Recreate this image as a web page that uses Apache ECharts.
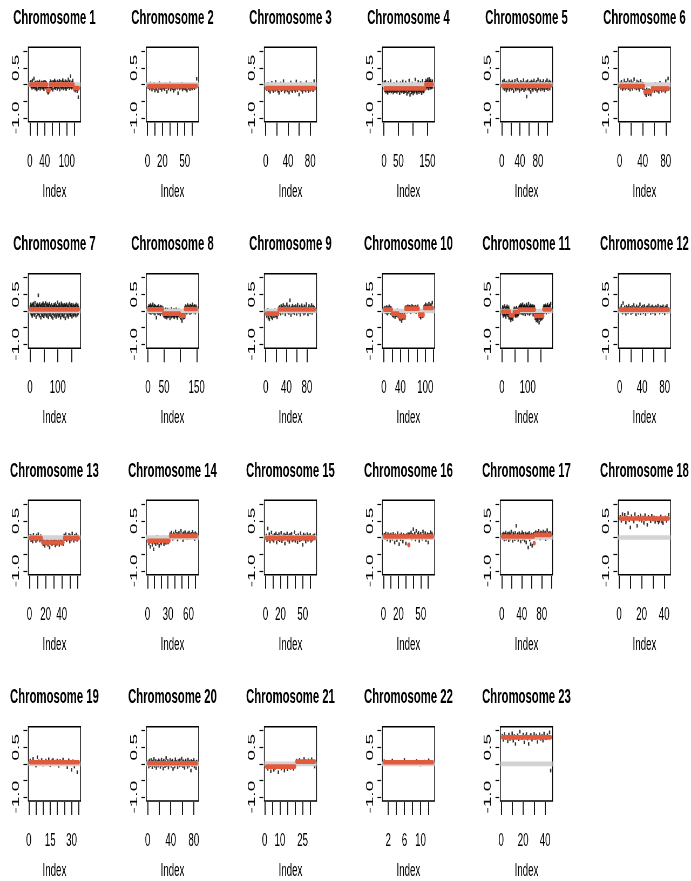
<!DOCTYPE html>
<html><head><meta charset="utf-8">
<script src="https://cdn.jsdelivr.net/npm/echarts@6/dist/echarts.min.js"></script>
<style>html,body{margin:0;padding:0;overflow:hidden;background:#fff}
#c{width:1280px;height:881px;transform:scaleX(0.539844);transform-origin:0 0}</style>
</head><body><div id="c"></div><script>
const titles = ['Chromosome 1','Chromosome 2','Chromosome 3','Chromosome 4','Chromosome 5','Chromosome 6','Chromosome 7','Chromosome 8','Chromosome 9','Chromosome 10','Chromosome 11','Chromosome 12','Chromosome 13','Chromosome 14','Chromosome 15','Chromosome 16','Chromosome 17','Chromosome 18','Chromosome 19','Chromosome 20','Chromosome 21','Chromosome 22','Chromosome 23'];

const chr1 = [.05,-.03,.08,-.06,.02,-.1,.12,-.04,.01,-.08,.18,-.05,.03,-.12,.06,-.02,-.09,.04,-.15,.07,-.03,.02,-.11,.05,-.06,.09,-.04,-.13,.03,-.07,.01,.06,-.1,-.02,.04,-.08,.07,-.14,.02,-.05,.08,-.03,-.09,.05,-.01,-.06,
-.2,-.12,-.25,-.15,-.22,-.1,-.18,
.04,-.07,.1,-.03,-.12,.06,-.05,.02,-.16,.08,-.02,.05,-.09,.12,-.04,-.11,.07,.01,-.06,.03,-.13,.09,-.02,-.08,.05,-.04,.11,-.15,.02,-.06,.08,-.01,-.1,.04,-.07,.13,-.03,-.12,.06,-.02,.03,-.09,.1,-.05,-.14,.07,.02,-.08,.05,-.03,.15,-.06,.04,-.11,.09,-.02,.25,-.07,.03,-.1,.06,-.04,.12,-.08,.02,
-.08,-.15,-.05,-.12,-.18,-.09,-.02,-.14,-.1,-.2,-.06,-.13,-.38,-.1];
const chr2 = [-.08,-.02,-.12,.03,-.06,-.15,-.04,-.1,.02,-.18,-.07,-.13,-.03,-.2,-.09,.04,-.11,-.05,-.16,-.02,-.1,-.07,-.14,.01,-.08,-.22,-.04,-.12,-.06,.03,-.15,-.09,-.03,-.11,-.19,-.05,-.13,-.07,-.02,-.1,-.26,-.06,-.12,-.04,-.09,.02,-.15,-.08,-.11,-.03,-.13,-.07,-.18,-.05,-.1,-.02,-.14,-.06,-.09,-.12,-.04,-.08,-.11,-.03,-.06,.17];
const chr3 = [-.05,-.14,-.08,.02,-.18,-.1,-.03,-.22,-.12,-.06,.05,-.15,-.09,-.2,-.04,-.11,-.16,.08,-.07,-.13,-.02,-.19,-.1,-.25,-.06,-.12,.03,-.17,-.08,-.14,-.11,.1,-.05,-.21,-.09,-.15,-.03,-.12,-.18,-.07,-.1,-.24,-.04,-.13,.06,-.16,-.09,-.2,-.06,-.11,-.14,-.02,-.19,-.08,.09,-.12,-.17,-.05,-.1,-.3,-.07,-.13,.04,-.16,-.09,-.22,-.11,-.04,-.15,-.08,-.12,-.18,.07,-.1,-.06,-.14,-.2,-.03,-.11,-.16,-.08,.02,-.13,-.09,-.17,-.05,.1,-.12];
const chr4 = [.06,
-.05,-.18,-.1,.08,-.15,-.22,-.07,-.13,-.02,-.19,-.11,-.25,-.08,.05,-.16,-.12,-.2,-.04,-.14,-.09,-.17,.1,-.06,-.21,-.13,-.1,-.03,-.18,-.15,-.08,-.24,-.11,.02,-.16,-.07,-.2,-.12,-.05,-.14,-.19,-.09,-.13,.07,-.22,-.1,-.16,-.04,-.12,-.18,-.08,-.15,-.11,-.26,-.06,-.13,.04,-.17,-.09,-.21,-.12,-.07,-.14,-.19,.09,-.1,-.16,-.05,-.23,-.12,-.08,-.15,-.2,-.1,.06,-.13,-.18,-.07,-.28,-.11,-.14,-.09,-.22,-.04,-.16,-.12,.12,-.19,-.1,-.31,-.13,-.06,-.17,-.11,-.24,-.08,-.15,.03,-.2,-.12,-.27,-.09,-.14,-.18,-.05,-.22,-.11,.15,-.16,-.08,-.13,-.2,-.1,-.25,-.07,-.15,-.12,.08,-.18,-.09,-.23,-.14,-.06,-.17,-.11,.05,-.2,-.13,-.08,-.26,-.1,-.16,.11,-.12,-.21,-.07,-.15,-.19,-.09,-.13,.04,-.11,
.05,-.08,.12,-.03,.02,-.1,.08,-.05,.15,-.02,.04,-.12,.06,
.17,
-.04,.08,-.1,.03,.12,-.06,.01,-.09,.05,-.02,.1,-.07];
const chr5 = [-.02,.08,-.1,-.05,.12,-.14,-.03,.04,-.09,-.18,.06,-.07,-.12,.02,-.05,.1,-.16,-.01,-.08,.05,-.13,-.04,.09,-.11,-.02,-.2,.03,-.06,.11,-.09,-.15,.01,-.07,.14,-.12,-.03,.06,-.1,-.19,.02,-.05,.08,-.14,-.08,.04,-.11,-.02,.13,-.17,-.06,.03,-.09,-.13,.07,-.36,-.04,.1,-.12,-.07,.02,-.15,.05,-.08,-.22,.09,-.03,-.11,.06,-.16,-.05,.12,-.1,-.02,.04,-.14,-.07,.08,-.19,-.04,.15,-.09,-.12,.03,-.06,.1,-.15,-.01,-.08,.05,-.13,-.04,.11,-.1,-.17,.02,-.06,.07,-.11,-.03,.13,-.08,-.14,.04,-.05,.09,-.12,-.02,.06];
const chr6 = [.03,-.1,.08,-.06,-.14,.02,-.09,.12,-.04,-.12,.05,-.08,-.02,.14,-.11,-.05,.07,-.15,-.01,.1,-.07,-.13,.04,-.03,.16,-.09,-.06,.01,-.12,.09,-.04,-.1,.06,-.16,-.02,.11,-.08,-.05,.03,-.11,.02,-.07,
-.18,-.27,-.2,-.32,-.15,-.24,-.21,-.29,-.17,-.25,-.2,-.3,-.19,
-.08,-.16,-.1,-.04,-.2,-.13,.02,-.15,-.09,-.18,-.11,-.06,-.22,-.12,.05,-.14,-.08,-.19,-.1,-.03,-.16,-.12,-.07,-.21,.1,-.11,-.15,-.05,.18,-.13];
const chr7 = [.12,-.05,.2,.08,-.1,.15,.02,-.15,.18,.05,-.08,.22,.1,-.02,.14,-.12,.06,.25,-.06,.11,.03,-.18,.16,.07,-.04,.2,.09,-.1,.13,.47,-.07,.17,.04,-.14,.21,.08,-.03,.12,-.2,.15,.06,-.09,.19,.01,-.13,.1,.23,-.05,.14,-.16,.07,.18,-.08,.11,-.02,.24,.05,-.11,.16,.03,-.15,.2,.09,-.06,.13,-.19,.17,.04,-.1,.22,.08,-.04,.15,-.12,.1,.02,-.17,.19,.06,-.07,.13,-.21,.11,.05,-.09,.18,-.01,.14,-.14,.07,.21,-.06,.1,-.18,.16,.03,-.11,.12,.26,-.03,.09,-.15,.17,.04,-.08,.2,-.12,.11,.06,-.2,.14,-.05,.23,.02,-.13,.18,.08,-.1,.15,-.02,.1,-.16,.19,.05,-.07,.13,-.22,.16,.07,-.04,.2,.01,-.14,.12,.09,-.09,.17,-.18,.11,.03,-.06,.22,.08,-.12,.15,.04,-.1,.19,-.03,.13,-.17,.09,.06,-.08,.18,.02,-.13,.14,.07,-.05,.11,-.09,.16,.03,-.14,.2,.07,-.02,.12,.05,-.11,.17,.08,-.06,.1];
const chr8 = [.1,-.02,.15,.06,-.04,.12,.01,.18,-.06,.09,.03,.14,-.03,.08,.2,0,.11,-.05,.07,.16,.02,-.08,.13,.05,.1,
-.2,
.08,-.03,.12,.04,-.07,.1,.15,.01,-.05,.09,.06,-.1,.13,.02,.07,-.04,.11,.03,-.06,.08,
-.05,-.12,.02,-.15,-.08,-.03,-.18,-.1,.05,-.13,-.07,-.2,-.02,-.11,.04,-.16,-.09,-.06,-.14,.01,-.1,-.22,-.04,-.12,-.08,.06,-.17,-.05,-.13,-.09,-.02,-.15,-.11,.03,-.19,-.07,-.1,-.14,-.04,-.08,.05,-.16,-.12,-.06,-.21,-.03,-.1,-.13,.02,-.09,-.15,-.07,
-.1,-.18,-.12,-.22,-.08,-.15,-.3,-.11,-.17,-.05,-.2,-.13,-.16,-.09,-.19,
.1,.02,.15,-.03,.08,.12,-.05,.06,.18,.01,.09,-.02,.14,.05,.11,-.06,.07,.16,.03,.1,-.04,.13,.08,.2,0,.06,.12,-.02,.09,.15,.04,.11,-.05,.07,.14,.02,.09];
const chr9 = [-.02,-.15,-.08,.03,-.2,-.1,-.25,-.05,-.13,.01,-.18,-.07,-.22,-.11,-.03,-.16,-.09,.02,-.14,-.06,-.12,-.19,-.04,-.1,
.08,-.03,.12,.05,-.08,.15,.02,.1,-.05,.18,.06,0,.13,-.1,.09,.04,.2,-.02,.11,.07,-.06,.14,.32,.03,-.12,.1,.05,.16,-.04,.08,.12,-.07,.02,.15,.06,-.09,.11,.19,.01,-.03,.09,.13,-.11,.05,.08,.17,-.02,.1,.04,-.08,.14,.06,-.05,.12,.21,0,.07,-.1,.09,.15,.03,-.04,.11,.06,.18,-.06,.08,.13,.02,.1,.05];
const chr10 = [.08,-.02,.1,0,.06,-.05,.12,.03,-.08,.09,.05,-.03,.14,.01,.07,-.06,.1,.04,.02,
-.05,-.12,-.02,-.15,-.08,-.1,0,-.18,-.06,-.11,-.04,-.13,-.09,.02,-.14,-.07,
-.12,-.2,-.1,-.25,-.14,-.08,-.18,-.3,-.16,-.11,-.22,-.13,-.19,-.15,-.09,-.21,
.1,.03,.12,.06,-.02,.09,.14,.04,.11,0,.08,.13,.05,-.04,.1,.07,.15,.02,.09,.12,.06,-.01,.11,.08,.04,.13,-.03,.1,.05,.09,.14,.07,.03,
-.08,-.15,-.06,-.12,-.2,-.09,-.13,-.05,-.16,-.1,-.07,-.14,
.12,.06,.15,.08,.2,.03,.11,.09,.17,.05,.13,.07,.22,.1,.04,.14,.08,.18,.06,.11,.25,.09];
const chr11 = [.05,-.08,.12,-.03,-.15,.02,.08,-.1,-.05,.15,-.02,-.12,.06,0,-.18,.1,-.06,.03,-.09,.14,-.04,.07,-.13,.01,-.07,.11,-.2,.04,-.01,-.11,
-.2,-.08,-.15,-.28,-.1,-.18,-.05,-.22,-.12,-.16,-.09,-.25,-.14,-.11,-.06,
.04,-.1,.08,-.06,-.12,.02,-.02,-.15,.06,-.08,.1,-.04,-.14,0,-.07,.05,-.11,.03,-.09,-.01,
.1,0,.14,.06,-.05,.12,.03,.18,-.02,.08,.15,-.06,.09,.04,.2,.01,-.08,.11,.07,.13,-.03,.06,.16,.02,-.1,.09,.12,0,.05,.19,-.04,.08,.14,.03,-.07,.1,.06,.22,-.01,.11,.04,-.09,.13,.07,.02,.17,-.05,.09,.12,.01,.06,.15,-.03,.1,.04,-.11,.08,.14,.03,.07,.12,-.02,
-.1,-.22,-.12,-.05,-.18,-.28,-.14,-.08,-.2,-.16,-.3,-.11,-.24,-.06,-.17,-.13,-.35,-.09,-.21,-.15,-.12,-.26,-.07,-.19,-.14,-.1,-.23,-.16,-.04,-.2,-.13,-.18,-.11,
.1,.02,.15,.06,-.03,.12,.08,0,.17,.05,.11,-.05,.09,.14,.03,.07,.19,.01,.1,.06,-.02,.13,.08,.04,.16,0,.11,.07,.22];
const chr12 = [.08,0,.15,.03,-.05,.24,.06,-.02,.11,.04,-.08,.13,.02,.09,-.04,.16,.05,.01,.1,-.06,.07,.12,-.03,.04,.18,-.01,.09,.06,-.1,.14,.03,.08,-.05,.11,.02,.2,-.07,.06,.1,0,.13,-.04,.07,.15,.03,-.09,.09,.05,.12,-.02,.06,.17,.01,.08,-.06,.11,.04,.14,-.03,.07,.1,.02,-.08,.13,.05,.09,-.01,.16,.03,.06,-.05,.12,.08,0,.1,-.03,.14,.04,.07,-.07,.11,.02,.09,.15,-.02,.06,.04];
const chr13 = [.05,-.08,.03,-.12,.08,-.04,.01,-.1,.06,-.06,.1,-.02,-.09,.04,-.05,
-.1,-.2,-.08,-.25,-.14,-.18,-.05,-.22,-.12,-.3,-.16,-.09,-.2,-.13,-.17,-.07,-.24,-.11,-.19,-.15,-.1,-.22,-.14,-.06,-.18,-.12,-.2,
.06,-.05,.1,-.08,.02,-.03,.08,-.12,.04,-.06,.12,0,-.1,.05,-.04,.09,-.07,.03,-.02];
const chr14 = [-.05,-.18,-.08,-.28,-.12,-.02,-.22,-.1,-.35,-.15,-.06,-.2,-.12,.02,-.16,-.09,-.25,-.04,-.14,-.18,-.08,-.11,0,-.2,-.13,-.06,-.16,-.1,-.03,-.15,-.12,-.07,
.1,.02,.15,.06,-.04,.12,.08,0,.18,.05,.11,-.06,.09,.14,.03,.07,.2,.01,.1,-.08,.13,.06,.16,.04,.09,-.02,.12,.07,.15,0,.08,.11,.03,.17,.05,.1,-.05,.13,.06,.09];
const chr15 = [.06,-.08,.27,-.04,.1,-.12,.02,.15,-.06,.04,-.1,.08,-.02,.12,-.15,.05,-.05,.1,-.08,.01,.14,-.11,.03,-.04,.09,-.18,.06,-.01,.12,-.07,.04,-.13,.08,-.03,.11,-.09,.02,-.06,.16,-.1,.05,-.02,-.14,.07,0,-.08,.13,-.05,.03,-.22,.09,-.04,.06,-.12,.01,.1,-.07,.04,-.03,.08,-.1,.02,-.06,.05,-.02,.07];
const chr16 = [.08,-.02,.12,.04,-.06,.1,0,.06,-.1,.09,.03,-.04,.11,.05,-.15,.07,.01,-.08,.13,.02,-.2,.06,-.05,.1,.04,-.12,.08,0,.05,-.18,.07,.03,.1,
-.22,
.1,.02,.15,-.03,.08,.25,.05,.12,-.06,.2,0,.09,.14,-.1,.06,.11,.03,-.04,.18,.07,.01,.13,-.08,.05,.1,-.15,.08,.04,.16,0,.12,.06];
const chr17 = [.08,-.02,.12,.05,-.06,.1,.02,.15,-.04,.07,0,.11,.04,-.08,.13,.06,-.03,.09,.18,.01,.05,-.1,.12,.03,.07,-.05,.14,.02,.35,-.02,.08,.1,-.07,.04,.13,0,.06,-.12,.09,.03,.16,-.04,.07,.11,.01,-.09,.05,.12,-.15,.08,.02,.1,-.3,.06,.14,-.06,.04,-.2,.09,.01,-.25,.07,.03,.11,
-.17,
.12,.05,.16,.08,0,.14,.1,.04,.2,.07,.11,-.03,.15,.06,.13,.09,.02,.18,.08,.12,.05,.15,-.05,.1,.07,.22,.04,.11,.09,.14,.03,.1,.13];
const chr18 = [.62,.5,.7,.55,.68,.45,.6,.73,.52,.3,.64,.56,.48,.7,.58,.35,.62,.53,.66,.5,.6,.44,.67,.55,.38,.62,.57,.49,.65,.54,.6,.47,.58,.52,.45,.5,.63,.48,.43,.55,.6,.5,.57,.68];
const chr19 = [.1,0,.15,.05,-.05,.2,.08,.02,.12,-.02,.06,.1,.03,.14,-.04,.08,.12,.01,.07,.1,-.06,.09,.04,.13,0,.06,-.1,.11,.03,-.18,.08,-.08,.05,-.25,.02];
const chr20 = [.05,-.08,.1,0,-.04,.12,.03,-.1,.07,-.02,.15,-.06,.04,.09,-.12,.02,.06,-.05,.11,-.01,.08,-.09,.03,.13,-.03,.05,-.14,.1,.01,-.07,.06,.18,-.04,.02,.09,-.11,.04,-.02,.12,0,-.06,.07,.1,-.15,.03,.05,-.08,.14,-.01,.06,.02,-.1,.09,.04,-.05,.11,0,-.03,.16,.05,-.07,.08,.02,-.12,.06,.1,-.02,.04,-.09,.13,.01,-.05,.07,.03,-.2,.09,-.04,.06,0,.12,-.08,.05,.02,-.13,.07];
const chr21 = [-.05,-.15,-.1,-.22,-.02,-.18,-.12,-.08,-.25,-.06,-.14,-.1,-.2,-.04,-.16,-.09,-.12,-.01,-.15,-.07,
.1,.04,.12,.06,.02,.15,.08,.05,.11,.03,.14,.07,-.08];
const chr22 = [.08,.02,.1,.05,0,.12,.06,.03,.09,-.02,.07,.11,.04];
const chr23 = [.85,.72,.9,.78,.82,.68,.88,.75,.8,.92,.7,.84,.6,.79,.86,.74,.97,.81,.77,.88,.65,.83,.9,.76,.6,.82,.87,.73,.8,.9,.78,.85,.66,.8,.89,.75,.84,.7,.91,.8,.77,.86,.82,.95,-.2];

// segments: [first index, last index, segment mean]
const seg1 = [[1,46,0],[47,53,-0.17],[54,118,0],[119,132,-0.11]];
const seg2 = [[1,66,-0.05]];
const seg3 = [[1,88,-0.11]];
const seg4 = [[1,1,0.06],[2,142,-0.12],[143,155,0],[156,156,0.15],[157,168,0]];
const seg5 = [[1,108,-0.04]];
const seg6 = [[1,42,-0.05],[43,55,-0.22],[56,85,-0.12]];
const seg7 = [[1,175,0.05]];
const seg8 = [[1,25,0.05],[26,26,-0.2],[27,46,0.05],[47,98,-0.08],[99,113,-0.14],[114,150,0.06]];
const seg9 = [[1,24,-0.08],[25,95,0.05]];
const seg10 = [[1,19,0.04],[20,35,-0.08],[36,51,-0.16],[52,84,0.07],[85,96,-0.11],[97,118,0.09]];
const seg11 = [[1,30,-0.02],[31,45,-0.13],[46,65,-0.03],[66,127,0.04],[128,160,-0.15],[161,189,0.05]];
const seg12 = [[1,87,0.04]];
const seg13 = [[1,15,-0.02],[16,42,-0.15],[43,61,-0.02]];
const seg14 = [[1,32,-0.1],[33,72,0.05]];
const seg15 = [[1,66,-0.02]];
const seg16 = [[1,33,0.03],[34,34,-0.22],[35,66,0.03]];
const seg17 = [[1,64,0.03],[65,65,-0.17],[66,98,0.08]];
const seg18 = [[1,44,0.57]];
const seg19 = [[1,35,0.05]];
const seg20 = [[1,85,0.02]];
const seg21 = [[1,20,-0.08],[21,33,0.07]];
const seg22 = [[1,13,0.05]];
const seg23 = [[1,45,0.8]];

const xTicks = [[0,20,40,60,80,100,120],[0,10,20,30,40,50,60],[0,20,40,60,80],[0,50,100,150],[0,20,40,60,80,100],[0,20,40,60,80],
[0,50,100,150],[0,50,100,150],[0,20,40,60,80],[0,20,40,60,80,100,120],[0,50,100,150],[0,20,40,60,80],
[0,10,20,30,40,50,60],[0,10,20,30,40,50,60,70],[0,10,20,30,40,50,60],[0,10,20,30,40,50,60],[0,20,40,60,80,100],[0,10,20,30,40],
[0,5,10,15,20,25,30,35],[0,20,40,60,80],[0,5,10,15,20,25,30],[2,4,6,8,10,12],[0,10,20,30,40]];
const xLabels = [[0,40,100],[0,20,50],[0,40,80],[0,50,150],[0,40,80],[0,40,80],
[0,100],[0,50,150],[0,40,80],[0,40,100],[0,100],[0,40,80],
[0,20,40],[0,30,60],[0,20,50],[0,20,50],[0,40,80],[0,20,40],
[0,15,30],[0,40,80],[0,10,25],[2,6,10],[0,20,40]];
const yTicks = [-1,-0.5,0,0.5,1];
const yLabels = [-1,0.5];

const values = [chr1,chr2,chr3,chr4,chr5,chr6,chr7,chr8,chr9,chr10,chr11,chr12,chr13,chr14,chr15,chr16,chr17,chr18,chr19,chr20,chr21,chr22,chr23];
const segments = [seg1,seg2,seg3,seg4,seg5,seg6,seg7,seg8,seg9,seg10,seg11,seg12,seg13,seg14,seg15,seg16,seg17,seg18,seg19,seg20,seg21,seg22,seg23];

const S = 691/1280;
const F = '"Liberation Sans", Arial, Helvetica, sans-serif';
const grids=[], xAxes=[], yAxes=[], series=[], graphics=[];
values.forEach((vals,i)=>{
  const col=i%6, row=Math.floor(i/6);
  const left=(28.3+118*col)/S, top=47.3+226.5*row, w=52.3/S, h=74.4;
  grids.push({left:left, top:top, width:w, height:h, show:true, borderColor:'#000', borderWidth:1.4, backgroundColor:'rgba(0,0,0,0)'});
  const n=vals.length, pad=0.04*(n-1);
  xAxes.push({type:'value', gridIndex:i, position:'bottom', min:1-pad, max:n+pad, offset:1,
    axisLine:{show:false, onZero:false}, splitLine:{show:false},
    axisTick:{show:true, inside:false, length:13, customValues:xTicks[i], lineStyle:{color:'#000', width:1.8}},
    axisLabel:{customValues:xLabels[i], margin:30, color:'#000', fontSize:18, fontFamily:F},
    name:'Index', nameLocation:'middle', nameGap:60, nameTextStyle:{color:'#000', fontSize:18, fontFamily:F}});
  yAxes.push({type:'value', gridIndex:i, position:'left', min:-1.115, max:1.115, offset:2,
    axisLine:{show:false, onZero:false}, splitLine:{show:false},
    axisTick:{show:true, inside:false, length:7, customValues:yTicks, lineStyle:{color:'#000', width:1.2}},
    axisLabel:{customValues:yLabels, rotate:90, margin:11, color:'#000', fontSize:19, fontFamily:F,
      formatter:(v)=>Number(v).toFixed(1)}});
  series.push({type:'scatter', xAxisIndex:i, yAxisIndex:i, symbol:'rect', symbolSize:[2.6,3.6],
    itemStyle:{color:'#000'}, data:vals.map((v,k)=>[k+1,v]), z:2, silent:true});
  series.push({type:'line', xAxisIndex:i, yAxisIndex:i, symbol:'none', data:[[1-pad,0],[n+pad,0]],
    lineStyle:{color:'#d3d3d3', width:4.7}, z:3, silent:true});
  segments[i].forEach(sg=>{
    const a = sg[0]===sg[1] ? sg[0]-0.5 : sg[0];
    const b = sg[0]===sg[1] ? sg[1]+0.5 : sg[1];
    series.push({type:'line', xAxisIndex:i, yAxisIndex:i, symbol:'none', data:[[a,sg[2]],[b,sg[2]]],
      lineStyle:{color:'#E25A3B', width:4.7, cap:'round'}, z:4, silent:true});
  });
  graphics.push({type:'text', x:left+w/2, y:18+226.5*row, style:{text:titles[i], font:'bold 21px '+F, fill:'#000', textAlign:'center', textVerticalAlign:'middle'}});
});
const chart = echarts.init(document.getElementById('c'), null, {renderer:'canvas', width:1280, height:881});
chart.setOption({animation:false, backgroundColor:'#fff', grid:grids, xAxis:xAxes, yAxis:yAxes, series:series, graphic:graphics});
</script></body></html>
